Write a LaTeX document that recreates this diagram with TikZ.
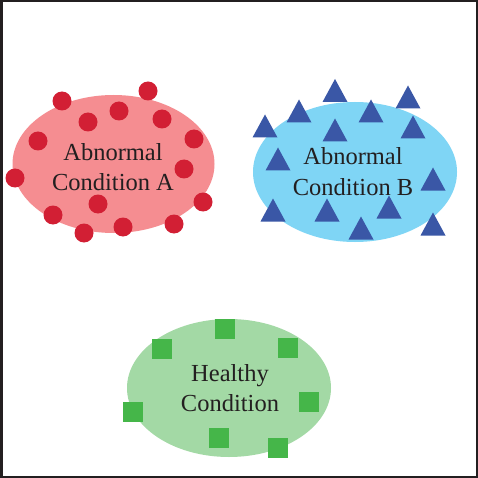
\documentclass[tikz,border=0pt]{standalone}
\usepackage{fontspec}
\setmainfont{Liberation Serif}
\definecolor{frame}{HTML}{231F20}
\definecolor{pinkfill}{HTML}{F58D91}
\definecolor{reddot}{HTML}{D21F34}
\definecolor{bluefill}{HTML}{7FD5F5}
\definecolor{bluetri}{HTML}{3A57A6}
\definecolor{greenfill}{HTML}{A3D9A5}
\definecolor{greensq}{HTML}{45B649}
\begin{document}
\begin{tikzpicture}[x=1pt,y=-1pt,
  label/.style={align=center,text=frame,font=\fontsize{24.5}{30.5}\selectfont,inner sep=0pt},
  dot/.style={fill=reddot},
  tri/.style={fill=bluetri},
  sq/.style={fill=greensq}]
\useasboundingbox (0,0) rectangle (478,478);
\fill[white] (0,0) rectangle (478,478);
\draw[frame,line width=2.5pt] (1.25,1.25) rectangle (476.75,476.75);
% ellipses
\fill[pinkfill] (113.5,164) ellipse [x radius=101, y radius=69];
\fill[bluefill] (355,172) ellipse [x radius=102, y radius=70];
\fill[greenfill] (229,388) ellipse [x radius=102, y radius=69];
% red dots
\foreach \p in {(62,101),(148,91),(119,111),(88,122),(162,119),(38,141),(194,139),(184,169),(15,178),(98,204),(203,202),(53,215),(84,233),(123,227),(174,224)}
  \fill[dot] \p circle [radius=9.5];
% blue triangles
\foreach \p in {(335,90.5),(408,97),(299,111),(371,111),(265,126),(335,130),(413,127),(278,159),(433,179),(273,210),(327,210),(389,207),(361,228),(433,224)}
  \fill[tri] \p ++(0,-11.5) -- ++(12.5,23) -- ++(-25,0) -- cycle;
% green squares
\foreach \p in {(225,329),(162,349),(288,348),(309,402),(133,412),(219,438),(278,448)}
  \fill[sq] \p ++(-10,-10) rectangle ++(20,20);
% labels
\node[label] (la) at (113,167) {Abnormal\\Condition A};
\node[label] (lb) at (353,171.5) {Abnormal\\Condition B};
\node[label] (lc) at (230,388) {Healthy\\Condition};
\end{tikzpicture}
\end{document}
